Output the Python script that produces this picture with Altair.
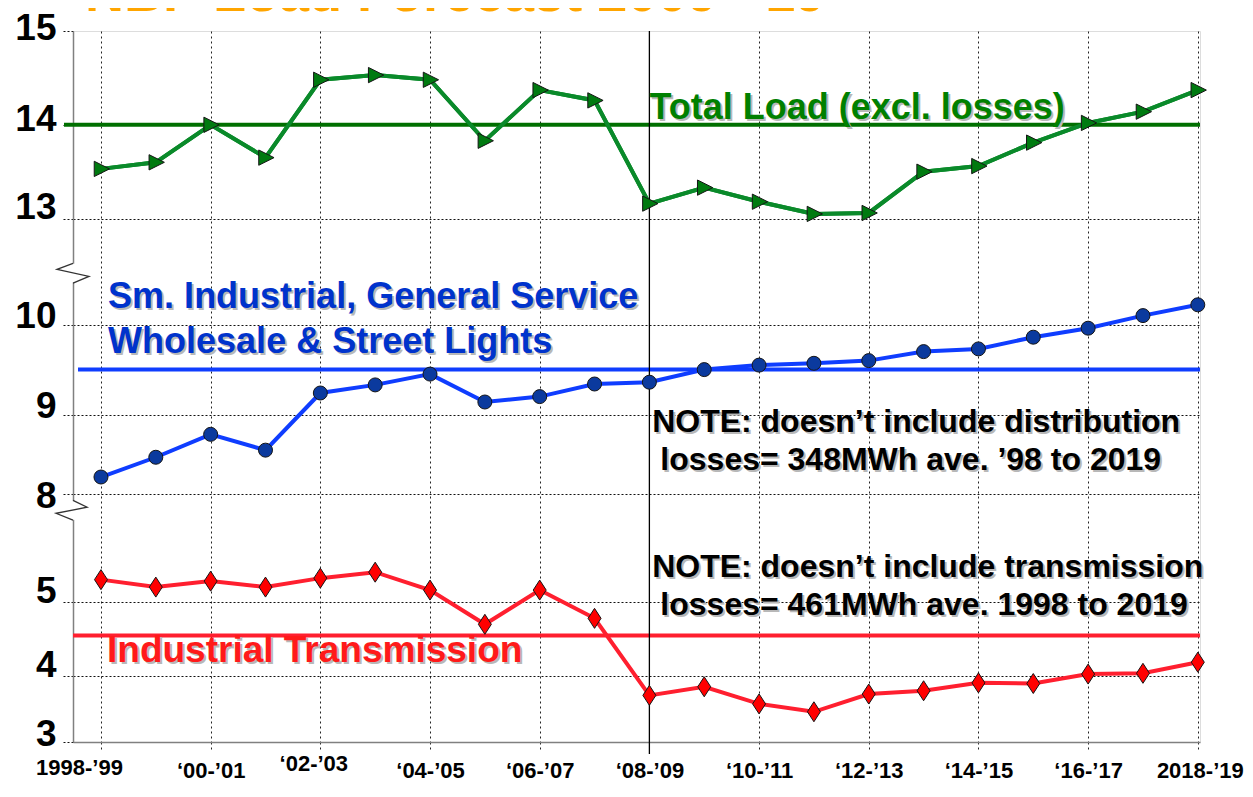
import json
import altair as alt
import pandas as pd

# ---------------- data ----------------
years = list(range(1998, 2019))
total_load = [13.53, 13.60, 14.00, 13.65, 14.48, 14.53, 14.48, 13.83, 14.37, 14.26,
              13.16, 13.33, 13.18, 13.05, 13.06, 13.50, 13.56, 13.81, 14.02, 14.14, 14.37]
sm_industrial = [8.21, 8.46, 8.75, 8.55, 9.24, 9.33, 9.45, 9.14, 9.20, 9.34,
                 9.36, 9.50, 9.55, 9.57, 9.60, 9.70, 9.73, 9.86, 9.96, 10.10, 10.22]
ind_transmission = [5.30, 5.20, 5.28, 5.20, 5.32, 5.40, 5.16, 4.70, 5.16, 4.78,
                    3.71, 3.84, 3.58, 3.46, 3.73, 3.78, 3.90, 3.89, 4.03, 4.04, 4.19]
averages = [14.0, 9.5, 4.55]   # total, small industrial, transmission

x_tick_years = [1998, 2000, 2002, 2004, 2006, 2008, 2010, 2012, 2014, 2016, 2018]
x_tick_labels = ["1998-\u201999", "\u201800-\u201901", "\u201802-\u201903", "\u201804-\u201905",
                 "\u201806-\u201907", "\u201808-\u201909", "\u201810-\u201911", "\u201812-\u201913",
                 "\u201814-\u201915", "\u201816-\u201917", "2018-\u201919"]
y_tick_values = [3, 4, 5, 8, 9, 10, 13, 14, 15]

title_text = "NBP Load Forecast 2009 -\u201919"
label_total = "Total Load (excl. losses)"
label_sm = ["Sm. Industrial, General Service", "Wholesale & Street Lights"]
label_trans = "Industrial Transmission"
note_dist = ["NOTE: doesn\u2019t include distribution", "losses= 348MWh ave. \u201998 to 2019"]
note_trans = ["NOTE: doesn\u2019t include transmission", "losses= 461MWh ave. 1998 to 2019"]

# broken (piecewise) y axis: value breakpoints and their pixel positions
y_domain = [3, 4, 5, 6.23, 7.79, 8, 9, 10, 10.57, 12.42, 13, 15]
y_range = [711, 645.3, 571, 479.3, 479.3, 462.6, 383.6, 293.6, 242.3, 242.3, 187.6, 0]
breaks = [10.57, 6.23]

W, H = 1127, 711
FONT = "Liberation Sans"

G_LINE, G_MARK, G_REF, G_TEXT = "#0a8a2a", "#007a10", "#006f00", "#008000"
B_LINE, B_MARK, B_REF, B_TEXT = "#0f3dff", "#0b3a9e", "#0f3dff", "#0033cc"
R_LINE, R_MARK, R_REF, R_TEXT = "#ff1f2f", "#ff0000", "#ff1f2f", "#ff1a1a"

df = pd.DataFrame({"year": years, "total": total_load, "sm": sm_industrial,
                   "trans": ind_transmission})
one = pd.DataFrame({"k": [0]})

x_scale = alt.Scale(domain=[1997.49, 2018.04], nice=False, zero=False)
y_scale = alt.Scale(domain=y_domain, range=y_range, nice=False, zero=False)

x_axis = alt.Axis(
    values=x_tick_years,
    labelExpr=json.dumps(x_tick_labels, ensure_ascii=False) + "[round((datum.value - 1998) / 2)]",
    title=None, grid=True, gridColor="#222222", gridDash=[2, 3], gridWidth=1,
    domainColor="#808080", domainWidth=1.5,
    ticks=True, tickColor="#222222", tickDash=[2, 3], tickSize=10, tickWidth=1,
    labelFont=FONT, labelFontWeight="bold", labelFontSize=22, labelColor="black",
    labelFlush=False, labelOverlap=False, labelBound=False,
    labelPadding={"condition": [{"test": "datum.value == 2002", "value": 1},
                                {"test": "datum.value == 1998", "value": 5}], "value": 8},
    labelOffset={"condition": [{"test": "datum.value == 1998", "value": -22},
                               {"test": "datum.value == 2018", "value": 2},
                               {"test": "datum.value == 2002", "value": -7}], "value": 0},
)
y_axis = alt.Axis(
    values=y_tick_values, format="d", title=None,
    grid=True, gridColor="#111111", gridDash=[2, 2], gridWidth=1,
    gridOpacity={"condition": {"test": "datum.value == 3 || datum.value == 15 || datum.value == 14",
                               "value": 0}, "value": 1},
    domainColor="#808080", domainWidth=1.5,
    tickColor="#111111", tickDash=[2, 2], tickSize=10, tickWidth=1,
    labelFont=FONT, labelFontWeight="bold", labelFontSize=37, labelColor="black",
    labelPadding=7, labelOverlap=False, labelBound=False, labelFlush=False,
    labelOffset={"condition": [{"test": "datum.value == 8", "value": 3},
                               {"test": "datum.value == 15", "value": -3},
                               {"test": "datum.value == 14", "value": -5},
                               {"test": "datum.value == 13 || datum.value == 5 || datum.value == 4",
                                "value": -11}], "value": -8},
)

xq = alt.X("year:Q", scale=x_scale, axis=x_axis)


def yq(col):
    return alt.Y(f"{col}:Q", scale=y_scale, axis=y_axis)


base = alt.Chart(df)
single = alt.Chart(one)

TRI = "M-0.75,-0.85 L0.95,0 L-0.75,0.85 Z"
DIA = "M0,-1 L0.65,0 L0,1 L-0.65,0 Z"
ZIG_TOP = "M0,-0.62 L-1,-0.25 L1,0.19 L0,0.62"
ZIG_BOT = "M0,-0.62 L0.88,-0.19 L-1.06,0.19 L0,0.62"
COVER = "M-0.25,-0.6 L0.25,-0.6 L0.25,0.6 L-0.25,0.6 Z"


def series(col, line_color, mark_color, shape, size):
    ln = base.mark_line(color=line_color, strokeWidth=4).encode(x=xq, y=yq(col))
    pt = base.mark_point(shape=shape, size=size, filled=True, fill=mark_color,
                         stroke="#151515", strokeWidth=1, opacity=1).encode(x=xq, y=yq(col))
    return [ln, pt]


def ref(value, color, x_start):
    return single.mark_rule(color=color, strokeWidth=4).encode(
        y=alt.datum(value), x=alt.value(x_start), x2=alt.value(W))


def ann(text, xv, yv, size, color):
    shadow = single.mark_text(text=text, font=FONT, fontWeight="bold", fontSize=size,
                              color="#b8b8b8", align="left", baseline="alphabetic",
                              dx=2, dy=2).encode(x=alt.datum(xv), y=alt.datum(yv))
    main = single.mark_text(text=text, font=FONT, fontWeight="bold", fontSize=size,
                            color=color, align="left", baseline="alphabetic").encode(
        x=alt.datum(xv), y=alt.datum(yv))
    return [shadow, main]


layers = []
layers += series("total", G_LINE, G_MARK, TRI, 324)[:1]
layers += [ref(averages[0], G_REF, -9), ref(averages[1], B_REF, 5), ref(averages[2], R_REF, 0)]
layers += [single.mark_rule(color="black", strokeWidth=1.3).encode(
    x=alt.datum(2008), y=alt.value(0), y2=alt.value(H + 12))]
layers += series("total", G_LINE, G_MARK, TRI, 324)
layers += series("sm", B_LINE, B_MARK, "circle", 196)
layers += series("trans", R_LINE, R_MARK, DIA, 400)

layers += ann(label_total, 2008.0, 14.066, 36, G_TEXT)
layers += ann(label_sm[0], 1998.13, 10.18, 36, B_TEXT)
layers += ann(label_sm[1], 1998.13, 9.681, 36, B_TEXT)
layers += ann(note_dist[0], 2008.05, 8.78, 32, "black")
layers += ann(note_dist[1], 2008.2, 8.295, 32, "black")
layers += ann(note_trans[0], 2008.05, 5.336, 32, "black")
layers += ann(note_trans[1], 2008.2, 4.821, 32, "black")
layers += ann(label_trans, 1998.11, 4.193, 37, R_TEXT)

# title (cut off at the top of the picture)
layers += [single.mark_text(text=title_text, font=FONT, fontWeight="bold", fontSize=54,
                            color="#FFA500", align="left", baseline="alphabetic").encode(
    x=alt.value(12), y=alt.value(-20))]

# axis break marks
for b, zz in zip(breaks, [ZIG_TOP, ZIG_BOT]):
    layers.append(single.mark_point(shape=COVER, size=1024, filled=True, fill="white",
                                    strokeWidth=0, opacity=1).encode(x=alt.value(0), y=alt.datum(b)))
    layers.append(single.mark_point(shape=zz, size=1024, filled=False, stroke="#333333",
                                    strokeWidth=1.3, opacity=1).encode(x=alt.value(0), y=alt.datum(b)))

chart = alt.layer(*layers).properties(
    width=W, height=H,
    autosize=alt.AutoSizeParams(type="none"),
    padding={"left": 65, "top": 23, "right": 45, "bottom": 44},
).configure_view(stroke="#7f7f7f", strokeWidth=1.5).configure(background="white")

chart.save("out.html", embed_options={"renderer": "svg", "actions": False})
